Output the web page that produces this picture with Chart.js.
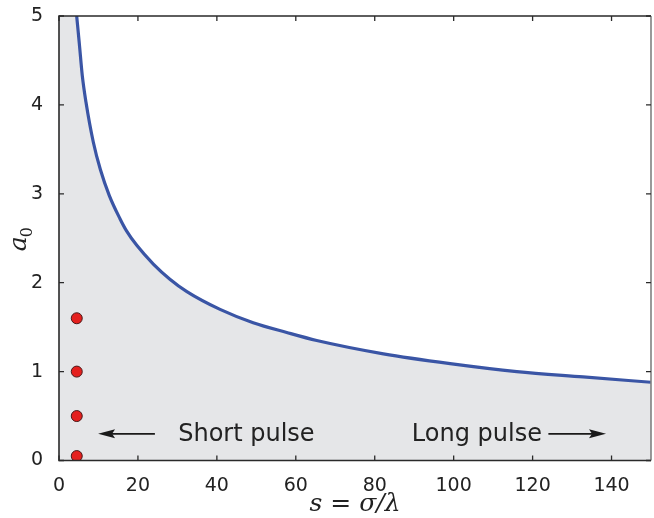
<!DOCTYPE html>
<html lang="en">
<head>
<meta charset="UTF-8">
<title>a0 vs s</title>
<script src="https://cdn.jsdelivr.net/npm/chart.js"></script>
<style>
  body { margin: 0; background: #fff; }
  canvas { display: block; }
</style>
</head>
<body>
<canvas id="pulseChart" width="654" height="518"></canvas>
<script>
// curve (s = sigma/lambda, a0)
const sValues  = [4.48, 5.15, 5.9, 6.84, 8.7, 10.5, 12.75, 15.45, 17.15, 19.7, 23.9, 28.1, 32.4, 40.8, 49.2, 57.7, 65.3, 82.2, 99.1, 116, 132.8, 150];
const a0Values = [5.0, 4.69, 4.33, 4.03, 3.58, 3.27, 2.98, 2.72, 2.58, 2.42, 2.21, 2.04, 1.90, 1.70, 1.55, 1.44, 1.35, 1.20, 1.09, 1.0, 0.94, 0.88];

// red markers
const markerS = [4.5, 4.5, 4.5, 4.5];
const markerA = [1.6, 1.0, 0.5, 0.05];

const xTicks = [0, 20, 40, 60, 80, 100, 120, 140];
const yTicks = [0, 1, 2, 3, 4, 5];

// annotations in data units
const shortArrow = [24.3, 9.9];
const longArrow = [124, 138.6];
const arrowY = 0.3;
const shortLabel = { text: 'Short pulse', s: 30.2 };
const longLabel = { text: 'Long pulse', s: 89.4 };

const curve = sValues.map((s, i) => ({ x: s, y: a0Values[i] }));
// shaded region: everything below the curve, including the strip left of it
const shade = [{ x: 0, y: 5 }].concat(curve);
const markers = markerS.map((s, i) => ({ x: s, y: markerA[i] }));

function arrow(ctx, x1, x2, y) {
    const dir = Math.sign(x2 - x1);
    ctx.beginPath();
    ctx.moveTo(x1, y);
    ctx.lineTo(x2 - dir * 12, y);
    ctx.stroke();
    ctx.beginPath();
    ctx.moveTo(x2, y);
    ctx.lineTo(x2 - dir * 17, y - 4.5);
    ctx.lineTo(x2 - dir * 14, y);
    ctx.lineTo(x2 - dir * 17, y + 4.5);
    ctx.closePath();
    ctx.fill();
}

const extras = {
    id: 'extras',
    afterDatasetsDraw(chart) {
        const { ctx, chartArea: a, scales: { x, y } } = chart;
        ctx.save();
        // annotations
        ctx.strokeStyle = '#1a1a1a';
        ctx.fillStyle = '#1a1a1a';
        ctx.lineWidth = 1.6;
        const yy = y.getPixelForValue(arrowY);
        arrow(ctx, x.getPixelForValue(shortArrow[0]), x.getPixelForValue(shortArrow[1]), yy);
        arrow(ctx, x.getPixelForValue(longArrow[0]), x.getPixelForValue(longArrow[1]), yy);
        ctx.font = '24px "DejaVu Sans"';
        ctx.textBaseline = 'alphabetic';
        ctx.textAlign = 'left';
        ctx.fillStyle = '#222';
        ctx.fillText(shortLabel.text, x.getPixelForValue(shortLabel.s), yy + 7);
        ctx.fillText(longLabel.text, x.getPixelForValue(longLabel.s), yy + 7);

        // frame
        ctx.lineWidth = 1.6;
        ctx.strokeStyle = '#2a2a2a';
        ctx.beginPath();
        ctx.moveTo(a.right, a.top);
        ctx.lineTo(a.left, a.top);
        ctx.lineTo(a.left, a.bottom);
        ctx.lineTo(a.right, a.bottom);
        ctx.stroke();
        ctx.strokeStyle = '#808080';
        ctx.beginPath();
        ctx.moveTo(a.right, a.top);
        ctx.lineTo(a.right, a.bottom);
        ctx.stroke();

        // inward ticks
        ctx.strokeStyle = '#2a2a2a';
        ctx.lineWidth = 1.3;
        ctx.beginPath();
        xTicks.forEach(v => {
            const px = x.getPixelForValue(v);
            ctx.moveTo(px, a.bottom); ctx.lineTo(px, a.bottom - 5);
            ctx.moveTo(px, a.top); ctx.lineTo(px, a.top + 5);
        });
        yTicks.forEach(v => {
            const py = y.getPixelForValue(v);
            ctx.moveTo(a.left, py); ctx.lineTo(a.left + 5, py);
            ctx.moveTo(a.right, py); ctx.lineTo(a.right - 5, py);
        });
        ctx.stroke();

        // axis titles
        ctx.fillStyle = '#222';
        ctx.textAlign = 'center';
        ctx.textBaseline = 'alphabetic';
        ctx.font = 'italic 25px "DejaVu Serif"';
        ctx.fillText('s = σ/λ', (a.left + a.right) / 2, 511);
        ctx.translate(26, (a.top + a.bottom) / 2);
        ctx.rotate(-Math.PI / 2);
        ctx.textAlign = 'left';
        ctx.fillText('a', -13, 0);
        ctx.font = '16px "DejaVu Serif"';
        ctx.fillText('0', 1, 6);
        ctx.restore();
    }
};

new Chart(document.getElementById('pulseChart'), {
    type: 'line',
    data: {
        datasets: [
            {
                data: shade,
                borderWidth: 0,
                pointRadius: 0,
                backgroundColor: '#e5e6e8',
                fill: 'origin',
                cubicInterpolationMode: 'monotone',
                order: 3
            },
            {
                data: curve,
                borderColor: '#3a55a5',
                borderWidth: 3.2,
                pointRadius: 0,
                fill: false,
                cubicInterpolationMode: 'monotone',
                order: 2
            },
            {
                data: markers,
                showLine: false,
                pointRadius: 5.5,
                pointBackgroundColor: '#e4201e',
                pointBorderColor: '#4a1a1a',
                pointBorderWidth: 1,
                order: 1
            }
        ]
    },
    options: {
        responsive: false,
        animation: false,
        layout: { autoPadding: false, padding: { top: 16, right: 3, left: 0, bottom: 0 } },
        plugins: { legend: { display: false }, tooltip: { enabled: false } },
        scales: {
            x: {
                type: 'linear',
                min: 0, max: 150,
                grid: { display: false },
                border: { display: false },
                ticks: { color: '#222', font: { family: 'DejaVu Sans', size: 19 }, padding: 6 },
                afterBuildTicks: s => { s.ticks = xTicks.map(v => ({ value: v })); },
                afterFit: s => { s.height = 57.5; s.paddingLeft = 0; s.paddingRight = 0; }
            },
            y: {
                min: 0, max: 5,
                grid: { display: false },
                border: { display: false },
                ticks: { color: '#222', font: { family: 'DejaVu Sans', size: 19 }, padding: 8 },
                afterBuildTicks: s => { s.ticks = yTicks.map(v => ({ value: v })); },
                afterFit: s => { s.width = 59; s.paddingTop = 0; s.paddingBottom = 0; }
            }
        }
    },
    plugins: [extras]
});
</script>
</body>
</html>
